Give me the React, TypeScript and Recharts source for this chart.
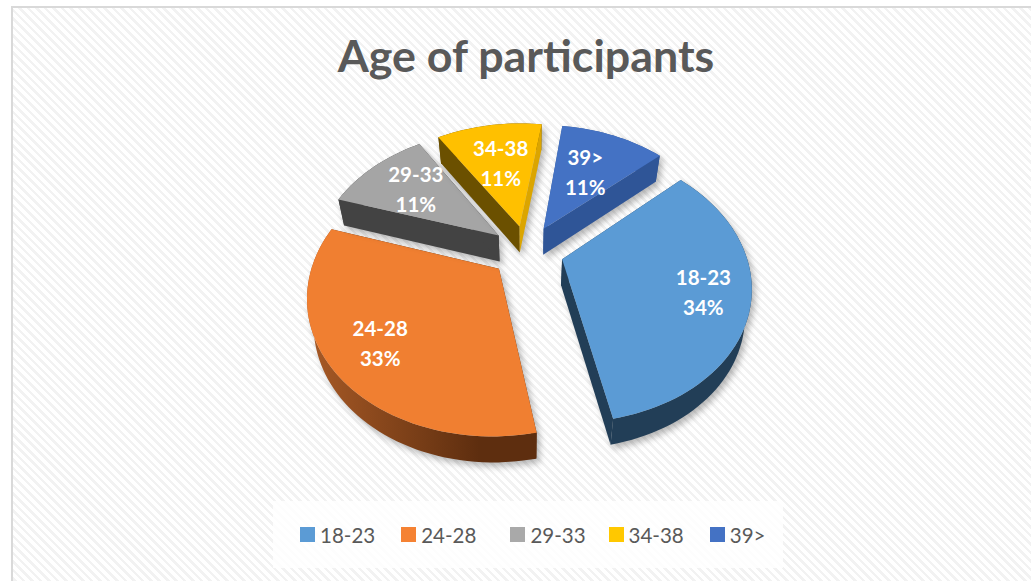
import React from "react";
import { PieChart, Pie, Cell, Legend } from "recharts";

const categories = ["18-23", "24-28", "29-33", "34-38", "39>"];
const values = [33.6, 33, 11.1, 11.2, 11.1];
const percentLabels = ["34%", "33%", "11%", "11%", "11%"];
const topColors = ["#5B9BD5", "#F07F31", "#A5A5A5", "#FFC000", "#4472C4"];
const legendColors = ["#5B9BD5", "#F58233", "#A9A9A9", "#FFC800", "#4472C4"];
const startFace = ["#223E57", "#5E2E0F", "#434343", "#6B5000", "#2F5597"];
const endFace = ["#223E57", "#5E2E0F", "#434343", "#DBA500", "#2F5597"];
const arcFaceLeft = ["#223E57", "#A85A26", "#434343", "#6B5000", "#2F5597"];
const arcFaceRight = ["#223E57", "#5E2E0F", "#434343", "#6B5000", "#2F5597"];
const labelRadii = [0.76, 0.75, 0.64, 0.58, 0.56];
const legendGaps = [26, 34, 23, 26, 0];

const rows = categories.map((name, i) => ({ name, value: values[i] }));

const EXPLODE = 0.2;
const SQUASH = 0.71;
const PERSPECTIVE = 0.182;
const DEPTH = 26;
const BASE_SHRINK = 0.97;

const rad = (d: number) => (d * Math.PI) / 180;

// Point on the tilted disc: exploded along the slice's middle angle, then foreshortened.
function project(cx: number, cy: number, R: number, mid: number, angle: number, r: number) {
  const u = EXPLODE * Math.cos(rad(mid)) + r * Math.cos(rad(angle));
  const v = EXPLODE * Math.sin(rad(mid)) + r * Math.sin(rad(angle));
  const p = 1 / (1 + PERSPECTIVE * v);
  return { x: cx + R * u * p, y: cy - R * SQUASH * v * p };
}

const down = (cx: number, pt: { x: number; y: number }) => ({
  x: cx + (pt.x - cx) * BASE_SHRINK,
  y: pt.y + DEPTH,
});

const toPath = (pts: { x: number; y: number }[]) =>
  pts.map((p, i) => `${i ? "L" : "M"}${p.x.toFixed(2)} ${p.y.toFixed(2)}`).join(" ") + " Z";

function Slice3D(props: any) {
  const { cx, cy, outerRadius: R, startAngle, endAngle, index, fill } = props;
  const mid = (startAngle + endAngle) / 2;
  const apex = project(cx, cy, R, mid, mid, 0);
  const arc: { x: number; y: number }[] = [];
  const steps = Math.max(4, Math.ceil(Math.abs(endAngle - startAngle) / 2));
  for (let s = 0; s <= steps; s++) {
    arc.push(project(cx, cy, R, mid, startAngle + ((endAngle - startAngle) * s) / steps, 1));
  }
  const first = arc[0];
  const last = arc[arc.length - 1];
  const gid = `arc-face-${index}`;
  return (
    <g style={{ filter: "drop-shadow(3px 4px 3px rgba(0,0,0,0.28))" }}>
      <defs>
        <linearGradient id={gid} x1="0" y1="0" x2="1" y2="0">
          <stop offset="0" stopColor={arcFaceLeft[index]} />
          <stop offset="0.75" stopColor={arcFaceRight[index]} />
        </linearGradient>
      </defs>
      <path d={toPath([...arc, ...arc.slice().reverse().map((p) => down(cx, p))])} fill={`url(#${gid})`} />
      <path d={toPath([apex, first, down(cx, first), down(cx, apex)])} fill={startFace[index]} />
      <path d={toPath([apex, last, down(cx, last), down(cx, apex)])} fill={endFace[index]} />
      <path d={toPath([apex, ...arc])} fill={fill} />
    </g>
  );
}

function SliceLabel(props: any) {
  const { cx, cy, outerRadius: R, midAngle, index } = props;
  const p = project(cx, cy, R, midAngle, midAngle, labelRadii[index]);
  return (
    <text
      x={p.x}
      textAnchor="middle"
      fill="#FFFFFF"
      style={{ fontFamily: "Lato, sans-serif", fontWeight: 700, fontSize: 20.5 }}
    >
      <tspan x={p.x} y={p.y - 8}>{categories[index]}</tspan>
      <tspan x={p.x} y={p.y + 22}>{percentLabels[index]}</tspan>
    </text>
  );
}

function LegendBox(props: any) {
  const items = props.payload ?? [];
  return (
    <div
      style={{
        width: 510,
        height: 67,
        background: "rgba(255,255,255,0.82)",
        display: "flex",
        alignItems: "center",
        boxSizing: "border-box",
        paddingLeft: 27,
        fontFamily: "Lato, sans-serif",
        fontSize: 20.5,
        color: "#595959",
      }}
    >
      {items.map((it: any, i: number) => (
        <span key={it.value} style={{ display: "flex", alignItems: "center", marginRight: legendGaps[i] }}>
          <span style={{ width: 15, height: 15, background: legendColors[i], marginRight: 5 }} />
          {it.value}
        </span>
      ))}
    </div>
  );
}

export default function App() {
  return (
    <div
      style={{
        position: "fixed",
        left: 0,
        top: 0,
        width: 1031,
        height: 581,
        overflow: "hidden",
        background: "#FFFFFF",
      }}
    >
      <div
        style={{
          position: "absolute",
          left: 11,
          top: 6,
          width: 1100,
          height: 700,
          boxSizing: "border-box",
          border: "2px solid #D9D9D9",
          background: "repeating-linear-gradient(45deg, #FFFFFF 0 3.5px, #F2F2F2 3.5px 6px)",
        }}
      />
      <div style={{ position: "absolute", left: 0, top: 0 }}>
        <PieChart width={1031} height={581} margin={{ top: 0, right: 0, bottom: 0, left: 0 }}>
          <text
            x={526}
            y={72}
            textAnchor="middle"
            fill="#595959"
            style={{ fontFamily: "Lato, sans-serif", fontWeight: 700, fontSize: 44.8 }}
          >
            Age of participants
          </text>
          <Pie
            data={rows}
            dataKey="value"
            nameKey="name"
            cx={527}
            cy={251}
            innerRadius={0}
            outerRadius={183}
            startAngle={42}
            endAngle={-318}
            stroke="none"
            legendType="square"
            isAnimationActive={false}
            shape={Slice3D}
            label={SliceLabel}
            labelLine={false}
          >
            {rows.map((r, i) => (
              <Cell key={r.name} fill={topColors[i]} />
            ))}
          </Pie>
          <Legend
            content={LegendBox}
            wrapperStyle={{ position: "absolute", left: 273, top: 501, width: 510, height: 67 }}
          />
        </PieChart>
      </div>
    </div>
  );
}
